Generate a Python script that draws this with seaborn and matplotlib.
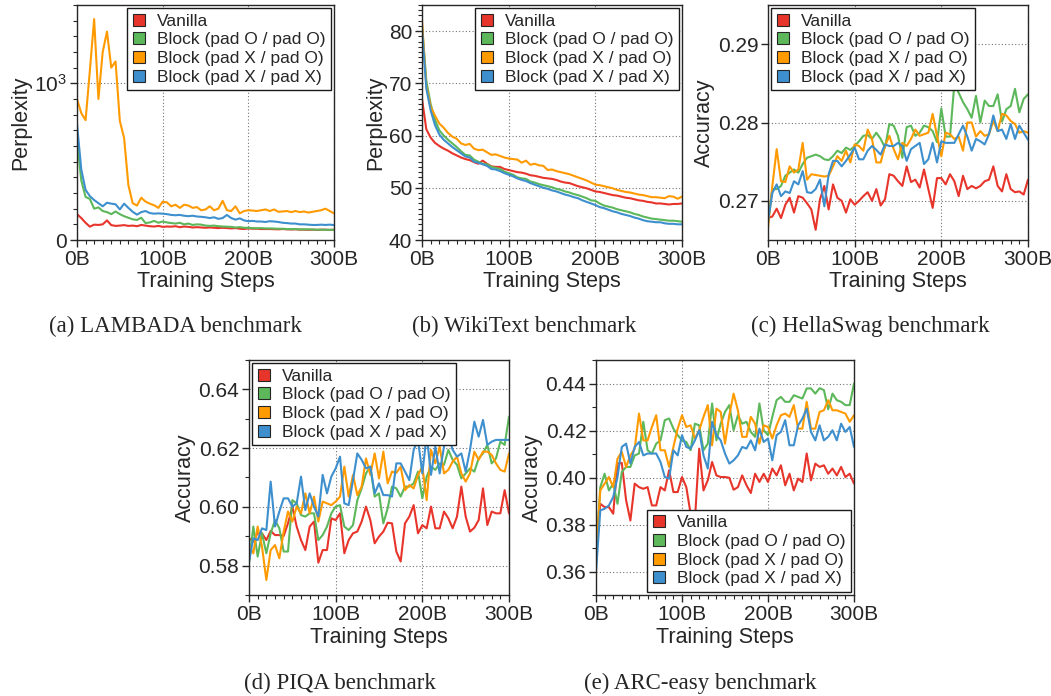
import numpy as np
import pandas as pd
import matplotlib
matplotlib.use("Agg")
import matplotlib.pyplot as plt
from matplotlib.patches import Patch
from matplotlib.ticker import MultipleLocator
import seaborn as sns

steps = list(range(0, 301, 5))  # training steps in B tokens
series_names = ["Vanilla", "Block (pad O / pad O)", "Block (pad X / pad O)", "Block (pad X / pad X)"]
colors = ["#e8352b", "#5cb85a", "#ff9a00", "#3d8fcd"]

# (a) LAMBADA perplexity
lambada_vanilla = [165, 140, 110, 85, 98, 96, 100, 125, 95, 90, 92, 95, 90, 92, 88, 96, 92, 88, 86, 90,
                   84, 86, 85, 88, 82, 86, 84, 80, 82, 80, 78, 80, 78, 76, 78, 76, 74, 76, 72, 70,
                   74, 72, 72, 70, 70, 70, 69, 68, 70, 68, 67, 68, 66, 66, 65, 66, 64, 66, 66, 64, 66]
lambada_pad_oo = [640, 380, 275, 262, 200, 208, 185, 178, 165, 182, 165, 152, 142, 132, 128, 142, 108, 112, 122, 110,
                  118, 112, 108, 105, 110, 100, 105, 96, 100, 98, 92, 90, 92, 88, 86, 85, 84, 80, 82, 78,
                  78, 76, 75, 76, 74, 74, 73, 72, 72, 70, 70, 70, 68, 68, 68, 67, 66, 66, 65, 65, 65]
lambada_pad_xo = [900, 810, 765, 1080, 1410, 900, 1200, 1330, 1100, 1140, 760, 650, 350, 235, 220, 270, 245, 232, 222, 205,
                  245, 240, 215, 225, 205, 225, 220, 205, 210, 190, 195, 215, 190, 200, 250, 190, 185, 215, 170, 185,
                  190, 188, 185, 190, 195, 185, 195, 180, 182, 185, 178, 185, 178, 182, 175, 180, 185, 190, 200, 185, 170]
lambada_pad_xx = [740, 450, 320, 280, 255, 235, 215, 238, 232, 228, 195, 232, 205, 180, 162, 178, 185, 172, 168, 170,
                  168, 165, 160, 158, 160, 155, 152, 155, 150, 148, 145, 140, 145, 135, 140, 160, 140, 130, 138, 125,
                  120, 122, 118, 118, 115, 120, 118, 115, 110, 108, 105, 105, 100, 100, 98, 96, 96, 98, 96, 98, 95]

# (b) WikiText perplexity
wiki_vanilla = [67.0, 61.2, 59.6, 58.6, 58.0, 57.5, 57.1, 56.6, 56.2, 55.8, 55.5, 55.3, 54.9, 54.6, 55.2, 54.6, 54.1, 54.0, 54.0, 53.6,
                53.4, 53.2, 53.0, 52.9, 52.7, 52.4, 52.3, 52.1, 51.9, 51.8, 51.7, 51.5, 51.2, 51.0, 50.9, 50.6, 50.3, 50.1, 49.9, 49.6,
                49.3, 49.2, 49.0, 48.8, 48.6, 48.5, 48.3, 48.1, 48.0, 47.8, 47.6, 47.5, 47.3, 47.2, 47.0, 47.0, 46.9, 46.8, 46.9, 46.9, 47.0]
wiki_pad_oo = [81.0, 70.5, 66.0, 63.0, 61.0, 60.0, 59.2, 58.5, 57.8, 57.0, 56.3, 56.2, 55.4, 55.0, 54.6, 54.5, 54.0, 53.8, 53.6, 53.1,
               52.8, 52.5, 52.0, 51.8, 51.7, 51.2, 51.0, 50.7, 50.5, 50.3, 50.1, 49.8, 49.6, 49.3, 49.1, 48.8, 48.6, 48.3, 48.0, 47.6,
               47.5, 47.0, 46.6, 46.4, 46.2, 45.9, 45.7, 45.5, 45.3, 45.0, 44.8, 44.5, 44.3, 44.1, 44.0, 43.9, 43.8, 43.7, 43.7, 43.6, 43.5]
wiki_pad_xo = [82.0, 69.5, 65.5, 63.8, 62.3, 61.5, 60.5, 59.8, 59.4, 58.5, 58.2, 58.4, 57.5, 57.2, 57.3, 56.8, 56.3, 56.4, 56.1, 55.8,
               55.6, 55.5, 55.4, 54.8, 55.2, 54.4, 54.6, 54.3, 54.2, 53.4, 53.5, 53.2, 53.0, 52.8, 52.6, 52.3, 52.0, 51.7, 51.4, 51.0,
               50.6, 50.5, 50.3, 50.1, 49.9, 49.6, 49.4, 49.2, 49.1, 48.9, 48.7, 48.6, 48.4, 48.2, 48.2, 48.1, 48.0, 48.4, 48.3, 47.9, 48.3]
wiki_pad_xx = [80.5, 69.0, 64.8, 62.0, 60.2, 59.2, 58.5, 57.8, 57.2, 56.6, 56.0, 55.8, 55.0, 54.8, 54.5, 54.2, 53.6, 53.5, 53.2, 52.8,
               52.5, 52.2, 51.8, 51.5, 51.3, 50.9, 50.6, 50.3, 50.0, 49.8, 49.5, 49.3, 49.0, 48.7, 48.5, 48.2, 48.0, 47.6, 47.3, 47.0,
               46.7, 46.3, 46.1, 45.8, 45.5, 45.3, 45.0, 44.8, 44.6, 44.3, 44.1, 43.8, 43.6, 43.5, 43.4, 43.4, 43.2, 43.1, 43.1, 43.0, 43.0]

# (c) HellaSwag accuracy
hella_vanilla = [0.2678, 0.2680, 0.2690, 0.2678, 0.2695, 0.2704, 0.2685, 0.2706, 0.2704, 0.2697, 0.2689, 0.2663, 0.2702, 0.2719, 0.2689,
                 0.2721, 0.2704, 0.2700, 0.2685, 0.2702, 0.2695, 0.2700, 0.2706, 0.2711, 0.2700, 0.2715, 0.2694, 0.2702, 0.2734, 0.2732,
                 0.2725, 0.2719, 0.2744, 0.2724, 0.2727, 0.2717, 0.2740, 0.2715, 0.2691, 0.2729, 0.2729, 0.2721, 0.2734, 0.2725, 0.2706,
                 0.2732, 0.2715, 0.2719, 0.2716, 0.2719, 0.2725, 0.2727, 0.2744, 0.2719, 0.2712, 0.2734, 0.2715, 0.2711, 0.2712, 0.2708, 0.2727]
hella_pad_oo = [0.2676, 0.2715, 0.2715, 0.2719, 0.2732, 0.2736, 0.2740, 0.2736, 0.2747, 0.2755, 0.2757, 0.2759, 0.2757, 0.2753, 0.2752,
                0.2757, 0.2764, 0.2761, 0.2768, 0.2765, 0.2770, 0.2776, 0.2783, 0.2784, 0.2779, 0.2787, 0.2779, 0.2768, 0.2798, 0.2796,
                0.2783, 0.2755, 0.2794, 0.2796, 0.2783, 0.2787, 0.2796, 0.2794, 0.2789, 0.2775, 0.2818, 0.2782, 0.2782, 0.2849, 0.2838,
                0.2826, 0.2817, 0.2806, 0.2834, 0.2800, 0.2828, 0.2821, 0.2821, 0.2836, 0.2801, 0.2817, 0.2821, 0.2843, 0.2813, 0.2830, 0.2836]
hella_pad_xo = [0.2665, 0.2719, 0.2766, 0.2725, 0.2724, 0.2744, 0.2736, 0.2740, 0.2774, 0.2727, 0.2734, 0.2733, 0.2732, 0.2731, 0.2732,
                0.2744, 0.2757, 0.2751, 0.2764, 0.2749, 0.2772, 0.2770, 0.2764, 0.2791, 0.2779, 0.2749, 0.2749, 0.2770, 0.2783, 0.2766,
                0.2753, 0.2774, 0.2770, 0.2779, 0.2791, 0.2783, 0.2785, 0.2787, 0.2811, 0.2783, 0.2757, 0.2787, 0.2785, 0.2779, 0.2782,
                0.2764, 0.2800, 0.2800, 0.2782, 0.2789, 0.2783, 0.2785, 0.2802, 0.2789, 0.2811, 0.2809, 0.2802, 0.2798, 0.2787, 0.2789, 0.2787]
hella_pad_xx = [0.2674, 0.2710, 0.2721, 0.2706, 0.2712, 0.2710, 0.2725, 0.2721, 0.2738, 0.2711, 0.2710, 0.2715, 0.2727, 0.2693, 0.2734,
                0.2751, 0.2751, 0.2744, 0.2751, 0.2759, 0.2768, 0.2753, 0.2753, 0.2764, 0.2770, 0.2765, 0.2759, 0.2772, 0.2770, 0.2770,
                0.2774, 0.2770, 0.2751, 0.2766, 0.2770, 0.2774, 0.2747, 0.2753, 0.2774, 0.2749, 0.2776, 0.2774, 0.2774, 0.2774, 0.2785,
                0.2796, 0.2782, 0.2764, 0.2779, 0.2776, 0.2772, 0.2785, 0.2809, 0.2789, 0.2791, 0.2779, 0.2798, 0.2779, 0.2796, 0.2787, 0.2778]

# (d) PIQA accuracy
piqa_vanilla = [0.5893, 0.5882, 0.5912, 0.5910, 0.5887, 0.5918, 0.5904, 0.5904, 0.5901, 0.5944, 0.6001, 0.5933, 0.5887, 0.5853, 0.5933,
                0.5950, 0.5810, 0.5853, 0.5853, 0.5961, 0.5955, 0.5978, 0.5842, 0.5887, 0.5910, 0.5916, 0.5950, 0.6001, 0.5955, 0.5876,
                0.5899, 0.5916, 0.5946, 0.5944, 0.5848, 0.5814, 0.5944, 0.5967, 0.6006, 0.5910, 0.5938, 0.5927, 0.6001, 0.5927, 0.5927,
                0.5984, 0.5961, 0.5927, 0.5967, 0.6069, 0.5967, 0.5916, 0.5929, 0.5955, 0.6063, 0.5938, 0.5984, 0.5978, 0.5978, 0.6057, 0.5978]
piqa_pad_oo = [0.5808, 0.5933, 0.5831, 0.5910, 0.5842, 0.5910, 0.5955, 0.5927, 0.5848, 0.5848, 0.6023, 0.6012, 0.5972, 0.5967, 0.5978,
               0.5978, 0.5887, 0.5904, 0.5933, 0.5978, 0.6001, 0.6006, 0.5933, 0.5921, 0.5938, 0.6023, 0.6063, 0.6114, 0.6137, 0.6035,
               0.6046, 0.5944, 0.5995, 0.6069, 0.6063, 0.6035, 0.6069, 0.6069, 0.6080, 0.6120, 0.6029, 0.6103, 0.6137, 0.6126, 0.6148,
               0.6143, 0.6194, 0.6160, 0.6143, 0.6097, 0.6114, 0.6131, 0.6120, 0.6165, 0.6182, 0.6211, 0.6148, 0.6165, 0.6222, 0.6211, 0.6307]
piqa_pad_xo = [0.5870, 0.5842, 0.5933, 0.5865, 0.5751, 0.5853, 0.5870, 0.5825, 0.5916, 0.5984, 0.5950, 0.6001, 0.5978, 0.6046, 0.5978,
               0.6035, 0.5950, 0.6018, 0.6012, 0.6006, 0.6018, 0.6035, 0.6137, 0.6035, 0.6109, 0.6040, 0.6069, 0.6165, 0.6109, 0.6182,
               0.6097, 0.6188, 0.6080, 0.6120, 0.6116, 0.6137, 0.6057, 0.6074, 0.6063, 0.6109, 0.6137, 0.6023, 0.6194, 0.6148, 0.6205,
               0.6114, 0.6126, 0.6154, 0.6171, 0.6114, 0.6086, 0.6114, 0.6188, 0.6160, 0.6188, 0.6188, 0.6177, 0.6148, 0.6126, 0.6120, 0.6182]
piqa_pad_xx = [0.5814, 0.5893, 0.5887, 0.5927, 0.5921, 0.6086, 0.5933, 0.5984, 0.6029, 0.6029, 0.6001, 0.6012, 0.6103, 0.5989, 0.6046,
               0.6001, 0.5967, 0.6109, 0.6046, 0.6103, 0.6131, 0.6171, 0.6012, 0.6006, 0.6091, 0.6182, 0.6160, 0.6131, 0.6137, 0.6046,
               0.6080, 0.6040, 0.6040, 0.6035, 0.6148, 0.6148, 0.6120, 0.6091, 0.6194, 0.6228, 0.6114, 0.6245, 0.6109, 0.6205, 0.6114,
               0.6205, 0.6245, 0.6194, 0.6171, 0.6182, 0.6120, 0.6194, 0.6290, 0.6239, 0.6296, 0.6211, 0.6222, 0.6228, 0.6228, 0.6228, 0.6228]

# (e) ARC-easy accuracy
arc_vanilla = [0.3700, 0.3888, 0.3874, 0.3874, 0.3846, 0.4059, 0.4062, 0.3903, 0.3817, 0.3974, 0.3959, 0.3952, 0.3959, 0.3881, 0.3881,
               0.3959, 0.3945, 0.4031, 0.3938, 0.3938, 0.4002, 0.3959, 0.3846, 0.3817, 0.4123, 0.3945, 0.3988, 0.4066, 0.4009, 0.4002,
               0.4002, 0.3999, 0.3948, 0.3959, 0.4009, 0.3967, 0.3934, 0.4016, 0.3981, 0.4016, 0.3981, 0.4038, 0.4009, 0.4052, 0.3967,
               0.4016, 0.3945, 0.3995, 0.3981, 0.4102, 0.3988, 0.4059, 0.4045, 0.4052, 0.4016, 0.4038, 0.4009, 0.4045, 0.4002, 0.4016, 0.3974]
arc_pad_oo = [0.3661, 0.3959, 0.4016, 0.3945, 0.3974, 0.3888, 0.4023, 0.4045, 0.4045, 0.4094, 0.4102, 0.4237, 0.4116, 0.4102, 0.4144,
              0.4158, 0.4244, 0.4251, 0.4208, 0.4180, 0.4158, 0.4151, 0.4116, 0.4229, 0.4222, 0.4116, 0.4144, 0.4315, 0.4158, 0.4229,
              0.4279, 0.4308, 0.4201, 0.4265, 0.4229, 0.4237, 0.4194, 0.4173, 0.4315, 0.4201, 0.4180, 0.4258, 0.4329, 0.4343, 0.4322,
              0.4322, 0.4350, 0.4343, 0.4336, 0.4379, 0.4379, 0.4357, 0.4380, 0.4372, 0.4290, 0.4357, 0.4329, 0.4322, 0.4308, 0.4308, 0.4400]
arc_pad_xo = [0.3675, 0.3945, 0.3974, 0.4002, 0.3959, 0.4080, 0.4109, 0.4045, 0.4094, 0.4123, 0.4272, 0.4158, 0.4158, 0.4215, 0.4265,
              0.4116, 0.4116, 0.4045, 0.4130, 0.4208, 0.4265, 0.4215, 0.4222, 0.4166, 0.4201, 0.4258, 0.4308, 0.4137, 0.4293, 0.4279,
              0.4144, 0.4265, 0.4357, 0.4286, 0.4173, 0.4173, 0.4258, 0.4229, 0.4144, 0.4222, 0.4215, 0.4166, 0.4222, 0.4265, 0.4272,
              0.4258, 0.4308, 0.4208, 0.4208, 0.4322, 0.4208, 0.4208, 0.4279, 0.4286, 0.4329, 0.4286, 0.4286, 0.4279, 0.4272, 0.4237, 0.4265]
arc_pad_xx = [0.3600, 0.3860, 0.3867, 0.3881, 0.3917, 0.4002, 0.4130, 0.4144, 0.4059, 0.4130, 0.4151, 0.4094, 0.4102, 0.4102, 0.4102,
              0.4066, 0.4002, 0.3995, 0.4116, 0.4094, 0.4180, 0.4130, 0.4123, 0.4158, 0.4201, 0.4094, 0.4038, 0.4237, 0.4180, 0.4158,
              0.4102, 0.4059, 0.4073, 0.4094, 0.4130, 0.4123, 0.4158, 0.4116, 0.4208, 0.4151, 0.4166, 0.4073, 0.4180, 0.4194, 0.4244,
              0.4137, 0.4137, 0.4222, 0.4251, 0.4293, 0.4194, 0.4158, 0.4222, 0.4158, 0.4173, 0.4201, 0.4158, 0.4229, 0.4194, 0.4215, 0.4130]

panels = [
    dict(values=[lambada_vanilla, lambada_pad_oo, lambada_pad_xo, lambada_pad_xx], ylabel="Perplexity",
         caption="(a) LAMBADA benchmark", rect=[77, 5, 257, 235], ylim=(0, 1500),
         yticks=[0, 1000], yticklabels=["0", "$10^3$"], yminor=100, legend="upper right", cap_x=175, cap_y=326),
    dict(values=[wiki_vanilla, wiki_pad_oo, wiki_pad_xo, wiki_pad_xx], ylabel="Perplexity",
         caption="(b) WikiText benchmark", rect=[422, 5, 260, 235], ylim=(40, 85),
         yticks=[40, 50, 60, 70, 80], yticklabels=None, yminor=1, legend="upper right", cap_x=524, cap_y=326),
    dict(values=[hella_vanilla, hella_pad_oo, hella_pad_xo, hella_pad_xx], ylabel="Accuracy",
         caption="(c) HellaSwag benchmark", rect=[768, 5, 260, 235], ylim=(0.265, 0.295),
         yticks=[0.27, 0.28, 0.29], yticklabels=None, yminor=None, legend="upper left", cap_x=870, cap_y=326),
    dict(values=[piqa_vanilla, piqa_pad_oo, piqa_pad_xo, piqa_pad_xx], ylabel="Accuracy",
         caption="(d) PIQA benchmark", rect=[249, 360, 260, 235], ylim=(0.57, 0.65),
         yticks=[0.58, 0.60, 0.62, 0.64], yticklabels=None, yminor=0.01, legend="upper left", cap_x=340, cap_y=683),
    dict(values=[arc_vanilla, arc_pad_oo, arc_pad_xo, arc_pad_xx], ylabel="Accuracy",
         caption="(e) ARC-easy benchmark", rect=[596, 360, 258, 235], ylim=(0.35, 0.45),
         yticks=[0.36, 0.38, 0.40, 0.42, 0.44], yticklabels=None, yminor=0.01, legend="lower right", cap_x=700, cap_y=683),
]

sns.set_style("ticks")
plt.rcParams["font.family"] = ["Liberation Sans", "DejaVu Sans"]
plt.rcParams["mathtext.fontset"] = "custom"
plt.rcParams["mathtext.rm"] = "Liberation Sans"
plt.rcParams["mathtext.it"] = "Liberation Sans:italic"

W, H = 1051, 696
fig = plt.figure(figsize=(W / 100, H / 100), dpi=100)
palette = dict(zip(series_names, colors))

for p in panels:
    x0, y0, w, h = p["rect"]
    ax = fig.add_axes([x0 / W, 1 - (y0 + h) / H, w / W, h / H])
    df = pd.DataFrame({
        "step": steps * 4,
        "value": sum(p["values"], []),
        "model": np.repeat(series_names, len(steps)),
    })
    sns.lineplot(data=df, x="step", y="value", hue="model", palette=palette, ax=ax,
                 linewidth=1.5, legend=False)
    ax.set_xlim(0, 300)
    ax.set_ylim(*p["ylim"])
    ax.set_xticks([0, 100, 200, 300])
    ax.set_xticklabels(["0B", "100B", "200B", "300B"])
    ax.xaxis.set_minor_locator(MultipleLocator(10))
    ax.set_yticks(p["yticks"])
    if p["yticklabels"] is not None:
        ax.set_yticklabels(p["yticklabels"])
    else:
        ax.set_yticklabels([f"{t:g}" if t >= 1 else f"{t:.2f}" for t in p["yticks"]])
    if p["yminor"]:
        ax.yaxis.set_minor_locator(MultipleLocator(p["yminor"]))
    ax.tick_params(which="major", length=5, width=1, labelsize=15, color="0.15", pad=2)
    ax.tick_params(which="minor", length=3, width=0.8, color="0.15")
    ax.grid(True, which="major", linestyle=(0, (1, 2)), color="0.45", linewidth=0.8)
    for s in ax.spines.values():
        s.set_visible(True)
        s.set_linewidth(1.0)
        s.set_color("0.15")
    ax.set_xlabel("Training Steps", fontsize=15.5, labelpad=2)
    ax.set_ylabel(p["ylabel"], fontsize=15.5, labelpad=2)
    handles = [Patch(facecolor=c, edgecolor="0.15", linewidth=0.8) for c in colors]
    leg = ax.legend(handles, series_names, loc=p["legend"], fontsize=12.5, frameon=True,
                    fancybox=False, framealpha=1, edgecolor="0.1", handlelength=0.7,
                    handleheight=0.7, handletextpad=0.7, borderpad=0.3, labelspacing=0.2,
                    borderaxespad=0.2)
    leg.get_frame().set_linewidth(1.0)
    fig.text(p["cap_x"] / W, 1 - p["cap_y"] / H, p["caption"], ha="center", va="center",
             fontsize=16.5, family=["Liberation Serif", "DejaVu Serif"])

fig.savefig("out.png", dpi=100)
